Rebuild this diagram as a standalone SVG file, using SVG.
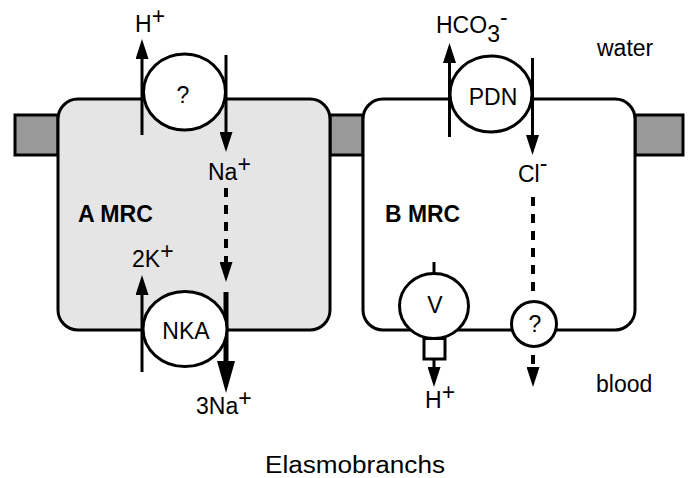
<svg xmlns="http://www.w3.org/2000/svg" width="689" height="478" viewBox="0 0 689 478">
<defs>
<style>
text{font-family:"Liberation Sans",Arial,Helvetica,sans-serif;font-size:23px;fill:#000}
.b{font-weight:bold}
.tab{fill:#999;stroke:#000;stroke-width:3}
.cell{stroke:#000;stroke-width:3}
.tp{fill:#fff;stroke:#000;stroke-width:3}
.ln{stroke:#000;stroke-width:3;fill:none}
.dash{stroke:#000;stroke-width:4;fill:none;stroke-dasharray:9 8}
.thick{stroke:#000;stroke-width:5;fill:none}
</style>
<marker id="arr" viewBox="0 0 20 13" markerWidth="20" markerHeight="13" refX="10" refY="6.5" orient="auto" markerUnits="userSpaceOnUse"><path d="M0,0 L20,6.5 L0,13 z" fill="#000"/></marker>
<marker id="arrB" viewBox="0 0 32 18" markerWidth="32" markerHeight="18" refX="16" refY="9" orient="auto" markerUnits="userSpaceOnUse"><path d="M0,0 L32,9 L0,18 z" fill="#000"/></marker>
</defs>
<rect width="689" height="478" fill="#fff"/>
<g id="tabs">
<rect class="tab" x="15" y="115" width="43" height="40"/>
<rect class="tab" x="330" y="115" width="33" height="40"/>
<rect class="tab" x="635" y="115" width="48" height="40"/>
</g>
<g id="cellA"><rect class="cell" x="58" y="99" width="272" height="231" rx="20" fill="#e5e5e5"/><text class="b" x="78" y="222" textLength="75" lengthAdjust="spacingAndGlyphs">A MRC</text></g>
<g id="cellB"><rect class="cell" x="363" y="99" width="272" height="231" rx="20" fill="#fff"/><text class="b" x="385" y="222" textLength="75" lengthAdjust="spacingAndGlyphs">B MRC</text></g>
<g id="connectors">
<line class="ln" x1="142" y1="135" x2="142" y2="49" marker-end="url(#arr)"/>
<line class="ln" x1="226" y1="55" x2="226" y2="142" marker-end="url(#arr)"/>
<line class="ln" x1="449.5" y1="137" x2="449.5" y2="53" marker-end="url(#arr)"/>
<line class="ln" x1="532.5" y1="58" x2="532.5" y2="145" marker-end="url(#arr)"/>
<line class="ln" x1="142" y1="372" x2="142" y2="285" marker-end="url(#arr)"/>
<line class="dash" x1="226" y1="188" x2="226" y2="272" marker-end="url(#arr)"/>
<line class="thick" x1="226" y1="292" x2="226" y2="377" marker-end="url(#arrB)"/>
<line class="dash" x1="533" y1="197" x2="533" y2="292"/>
<line class="dash" x1="533" y1="355" x2="533" y2="377" marker-end="url(#arr)"/>
<line class="ln" x1="434" y1="262" x2="434" y2="274"/>
<line class="ln" x1="434" y1="359" x2="434" y2="377" marker-end="url(#arr)"/>
</g>
<g id="exchangerA"><ellipse class="tp" cx="184.5" cy="92" rx="41" ry="38"/><text x="183" y="103" font-size="20" text-anchor="middle">?</text></g>
<g id="pdn"><ellipse class="tp" cx="491" cy="94" rx="41" ry="38"/><text x="493" y="105" text-anchor="middle">PDN</text></g>
<g id="nka"><ellipse class="tp" cx="185" cy="329" rx="42" ry="37.5"/><text x="186" y="339" text-anchor="middle">NKA</text></g>
<g id="vatpase"><ellipse class="tp" cx="434" cy="306" rx="34.5" ry="32.5"/><rect class="tp" x="424" y="338.5" width="21" height="20.5"/><text x="435" y="313" text-anchor="middle">V</text></g>
<g id="channelB"><circle class="tp" cx="534" cy="324" r="22.5"/><text x="535" y="332" font-size="19" text-anchor="middle">?</text></g>
<g id="labels">
<text x="135" y="32">H<tspan dy="-8">+</tspan></text>
<text x="436" y="33">HCO<tspan dy="9">3</tspan><tspan dy="-17">-</tspan></text>
<text x="597" y="56">water</text>
<text x="208" y="180">Na<tspan dy="-8">+</tspan></text>
<text x="518" y="182">Cl<tspan dy="-11">-</tspan></text>
<text x="132" y="267">2K<tspan dy="-8">+</tspan></text>
<text x="196" y="414">3Na<tspan dy="-8">+</tspan></text>
<text x="425" y="408">H<tspan dy="-8">+</tspan></text>
<text x="596" y="392">blood</text>
<text x="265" y="473" font-size="25" textLength="180" lengthAdjust="spacingAndGlyphs">Elasmobranchs</text>
</g>
</svg>
